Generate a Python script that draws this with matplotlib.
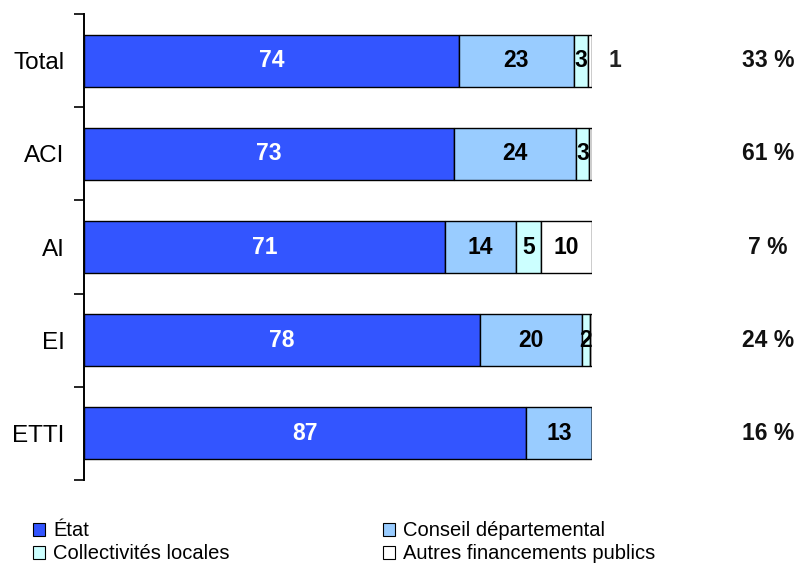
import matplotlib
matplotlib.use('Agg')
from matplotlib import pyplot as plt
from matplotlib.patches import Rectangle

plt.rcParams['font.family'] = ['Liberation Sans', 'DejaVu Sans']

categories = ["Total", "ACI", "AI", "EI", "ETTI"]
series = ["État", "Conseil départemental", "Collectivités locales", "Autres financements publics"]
colors = ["#3355ff", "#99ccff", "#ccffff", "#ffffff"]

# shares (%)
etat = [73.8, 72.9, 71.0, 78.0, 87.0]
conseil = [22.6, 24.0, 14.0, 20.0, 13.0]
collectivites = [2.9, 2.6, 5.0, 1.6, 0.0]
autres = [0.7, 0.5, 10.0, 0.4, 0.0]

# labels as printed on the chart
etat_lbl = ["74", "73", "71", "78", "87"]
conseil_lbl = ["23", "24", "14", "20", "13"]
coll_lbl = ["3", "3", "5", "2", ""]
autres_lbl = ["", "", "10", "", ""]
total_autres_lbl = "1"
right_lbl = ["33 %", "61 %", "7 %", "24 %", "16 %"]

fig = plt.figure(figsize=(7.99, 5.63), dpi=100)
ax = fig.add_axes([84 / 799, 83 / 563, 508 / 799, 466 / 563])

ypos = list(range(len(categories)))
left = [0.0] * len(categories)
all_vals = [etat, conseil, collectivites, autres]
all_lbls = [etat_lbl, conseil_lbl, coll_lbl, autres_lbl]
for vals, lbls, col, name in zip(all_vals, all_lbls, colors, series):
    ax.barh(ypos, vals, left=left, height=0.56, color=col,
            edgecolor="black", linewidth=1.0, label=name)
    for i, (v, lb) in enumerate(zip(vals, lbls)):
        if lb:
            tc = "white" if col == "#3355ff" else "black"
            ax.text(left[i] + v / 2, i, lb, ha="center", va="center",
                    fontsize=16.5, fontweight="bold", color=tc)
    left = [l + v for l, v in zip(left, vals)]

ax.text(104.5, 0, total_autres_lbl, ha="center", va="center",
        fontsize=16.5, fontweight="bold", color="#222222")
for i, t in enumerate(right_lbl):
    ax.text(134.6, i, t, ha="center", va="center", fontsize=16.5,
            fontweight="bold", color="#111111", clip_on=False)

ax.set_xlim(0, 100)
ax.set_ylim(4.5, -0.5)
ax.set_yticks([y - 0.5 for y in range(len(categories) + 1)])
ax.set_yticklabels([])
ax.set_yticks(ypos, minor=True)
ax.set_yticklabels(categories, minor=True, fontsize=17.5)
ax.tick_params(axis="y", which="major", length=7, width=1.2, direction="out")
ax.tick_params(axis="y", which="minor", length=0, pad=14)
ax.set_xticks([])
for s in ["top", "right", "bottom"]:
    ax.spines[s].set_visible(False)
ax.spines["left"].set_linewidth(1.4)

# legend drawn by hand: two columns, two tight rows
leg_x = [33, 383]
leg_y = [536, 559]
for n in range(len(series)):
    col_i, row_i = n % 2, n // 2
    x0, yb = leg_x[col_i], leg_y[row_i]
    fig.patches.append(Rectangle((x0 / 799, 1 - yb / 563), 12 / 799, 13 / 563,
                                 transform=fig.transFigure, facecolor=colors[n],
                                 edgecolor="black", linewidth=0.8))
    fig.text((x0 + 20) / 799, 1 - yb / 563, series[n], ha="left",
             va="baseline", fontsize=14.5)

fig.savefig("out.png", dpi=100)
